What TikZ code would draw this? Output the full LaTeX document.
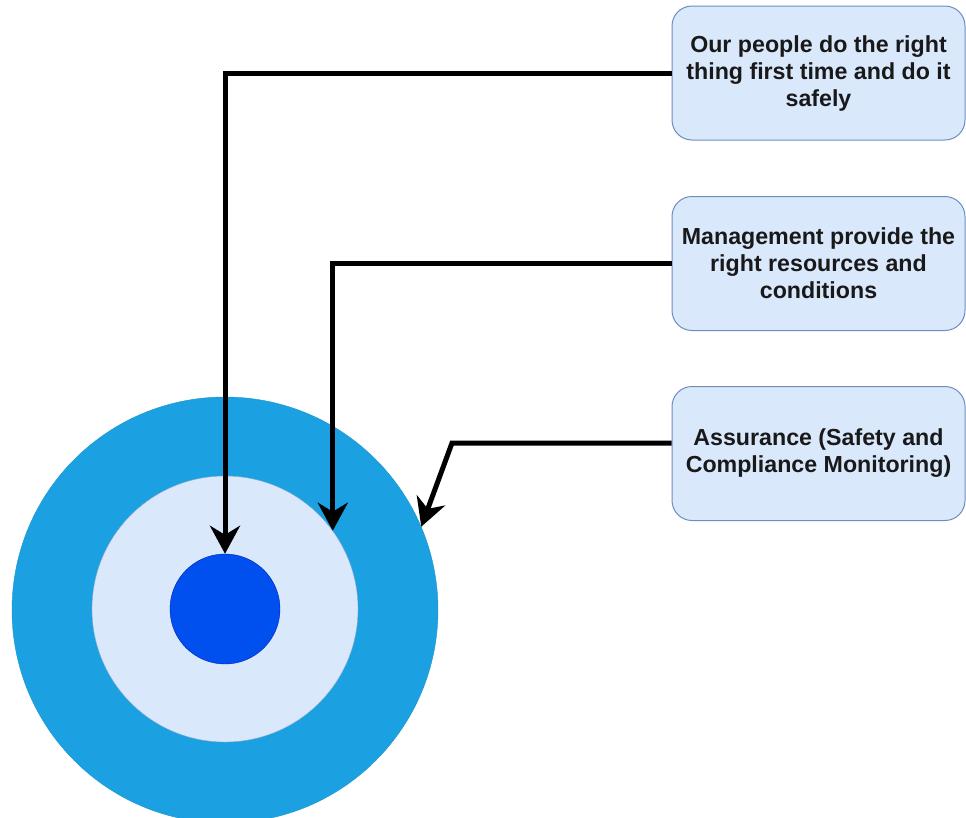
\documentclass[tikz,border=0pt]{standalone}
\usepackage{fontspec}
\setmainfont{Liberation Sans}
\usetikzlibrary{arrows.meta}
\definecolor{outerfill}{HTML}{1BA1E2}
\definecolor{outerline}{HTML}{1C93CC}
\definecolor{palefill}{HTML}{DAE8FC}
\definecolor{paleline}{HTML}{6C8EBF}
\definecolor{corefill}{HTML}{0050EF}
\definecolor{coreline}{HTML}{001DBC}
\tikzset{
  ring/.style={circle, inner sep=0pt},
  msgbox/.style={draw=paleline, fill=palefill, line width=1pt, rounded corners=20pt,
    minimum width=293pt, minimum height=134pt, align=center,
    font=\fontsize{23.2}{27}\selectfont\bfseries, text=black!90},
  conn/.style={line width=5pt, -{Stealth[length=28pt, width=30pt, inset=9pt]}},
}
\begin{document}
\begin{tikzpicture}[x=1pt, y=1pt]
  \useasboundingbox (0,0) rectangle (966,-817);
  % concentric target
  \node[ring, fill=outerfill, draw=outerline, minimum size=426pt] (outer) at (225,-610) {};
  \node[ring, fill=palefill, draw=paleline!80, minimum size=266pt] (mid) at (225,-609) {};
  \node[ring, fill=corefill, draw=coreline, minimum size=110pt] (core) at (225,-609) {};
  % statement boxes
  \node[msgbox] (b1) at (818.5,-73) {Our people do the right\\thing first time and do it\\safely};
  \node[msgbox] (b2) at (818.5,-263.5) {Management provide the\\right resources and\\conditions};
  \node[msgbox] (b3) at (818.5,-453.5) {Assurance (Safety and\\Compliance Monitoring)};
  % connectors
  \coordinate (k3) at (452,-443);
  \draw[conn] (b1.west) -| (core.north);
  \draw[conn] (b2.west) -| (mid.36);
  \draw[conn] (b3.west |- k3) -- (k3) -- (outer.23);
\end{tikzpicture}
\end{document}
